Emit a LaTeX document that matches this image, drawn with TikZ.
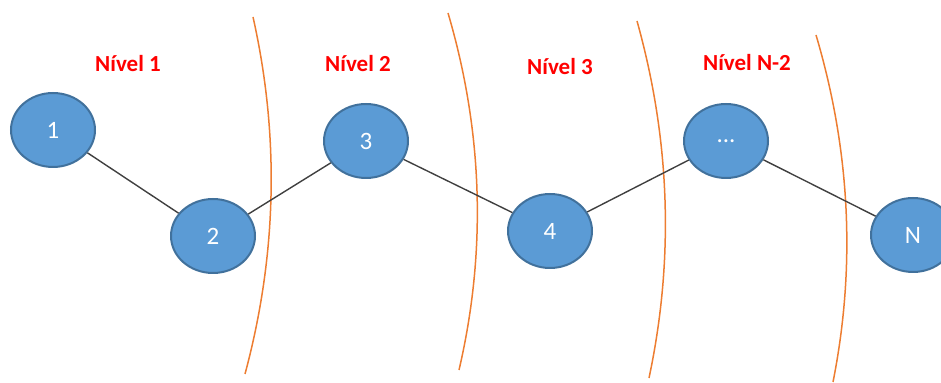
\documentclass[tikz,border=0pt]{standalone}
\usepackage{fontspec}
\setmainfont{Carlito}
\usepackage{xcolor}
\definecolor{nodefill}{HTML}{5B9BD5}
\definecolor{nodeline}{HTML}{41719C}
\definecolor{cutline}{HTML}{ED7D31}
\definecolor{edgeline}{HTML}{404040}
\usetikzlibrary{shapes.geometric}

\begin{document}
\begin{tikzpicture}[x=0.5pt, y=-0.5pt,
    vertex/.style={ellipse, draw=nodeline, fill=nodefill, line width=1pt,
        minimum width=42pt, minimum height=37pt, inner sep=0pt,
        text=white, font=\fontsize{12.5}{14}\selectfont},
    level/.style={text=red, font=\fontsize{11.5}{13}\selectfont\bfseries},
    cut/.style={draw=cutline, line width=0.75pt},
    edge/.style={draw=edgeline, line width=0.7pt}]
\useasboundingbox (0,0) rectangle (941,383);
% levels
\node[level] (l1) at (128,64) {Nível 1};
\node[level] (l2) at (358,64) {Nível 2};
\node[level] (l3) at (560,67) {Nível 3};
\node[level] (l4) at (747,63) {Nível N-2};
% cuts between levels
\draw[cut] (253,17) .. controls (279.7,136) and (277,255) .. (245,374);
\draw[cut] (448,13) .. controls (483,131.7) and (486.7,251.3) .. (459,370);
\draw[cut] (637,21) .. controls (670.3,140) and (674.3,259) .. (649,378);
\draw[cut] (816,35) .. controls (850.3,150.7) and (856,266.3) .. (833,382);
% chain
\node[vertex] (n1) at (53,130) {1};
\node[vertex] (n2) at (213,236) {2};
\node[vertex] (n3) at (366,141) {3};
\node[vertex] (n4) at (550,231) {4};
\node[vertex] (n5) at (726,141) {...};
\node[vertex] (nN) at (913,235) {N};
\draw[edge] (n1) -- (n2) -- (n3) -- (n4) -- (n5) -- (nN);
\end{tikzpicture}
\end{document}
